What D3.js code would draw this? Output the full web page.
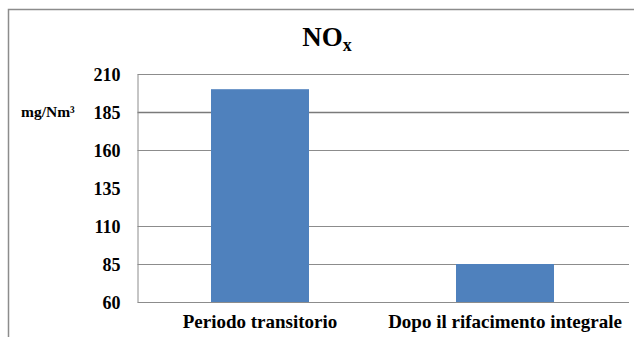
<!DOCTYPE html>
<html>
<head>
<meta charset="utf-8">
<script src="https://cdn.jsdelivr.net/npm/d3@7"></script>
<style>
  html, body { margin: 0; padding: 0; background: #fff; }
  svg { display: block; }
  svg text { font-family: "Liberation Serif", "DejaVu Serif", serif; font-weight: bold; }
</style>
</head>
<body>
<script>
// NOx emissions (mg/Nm³) before and after the full refurbishment
const categories = ["Periodo transitorio", "Dopo il rifacimento integrale"];
const values = [200, 85];
const yTicks = [60, 85, 110, 135, 160, 185, 210];
const gridValues = [85, 110, 160, 185, 210];
const unitLabel = "mg/Nm³";

const W = 634, H = 337;
const plot = { left: 137.5, right: 627.5, top: 74, bottom: 302 };
const serif = "Liberation Serif";

const svg = d3.select("body").append("svg")
  .attr("width", W).attr("height", H)
  .attr("font-family", serif)
  .attr("font-weight", "bold");

// outer frame (left and top edges visible)
svg.append("path")
  .attr("d", `M8.5,${H} V9.5 H${W}`)
  .attr("fill", "none")
  .attr("stroke", "#8c8c8c")
  .attr("stroke-width", 1.5);

const x = d3.scaleBand()
  .domain(categories)
  .range([plot.left, plot.right])
  .paddingInner(0.6)
  .paddingOuter(0.3);

const y = d3.scaleLinear()
  .domain([60, 210])
  .range([plot.bottom, plot.top]);

// horizontal gridlines
svg.append("g")
  .selectAll("line")
  .data(gridValues)
  .join("line")
  .attr("x1", plot.left).attr("x2", 629)
  .attr("y1", d => Math.round(y(d)) + 0.5).attr("y2", d => Math.round(y(d)) + 0.5)
  .attr("stroke", d => d === 185 ? "#7a7a7a" : "#8c8c8c")
  .attr("stroke-width", d => d === 185 ? 1.6 : 1);

// bars
svg.append("g")
  .selectAll("rect")
  .data(values)
  .join("rect")
  .attr("x", (d, i) => x(categories[i]))
  .attr("width", x.bandwidth())
  .attr("y", d => y(d))
  .attr("height", d => y(60) - y(d))
  .attr("fill", "#4f81bd");

// y axis
const yAxis = svg.append("g")
  .attr("transform", `translate(${plot.left},0)`)
  .call(d3.axisLeft(y).tickValues(yTicks).tickSize(0).tickPadding(17))
  .attr("font-family", serif)
  .attr("font-size", 18);
yAxis.select(".domain")
  .attr("stroke", "#8c8c8c");
yAxis.selectAll("text")
  .attr("fill", "#000")
  .attr("dy", "0.35em");

// x axis (baseline)
const xAxis = svg.append("g")
  .attr("transform", `translate(0,${plot.bottom})`)
  .call(d3.axisBottom(x).tickSize(0).tickPadding(12))
  .attr("font-family", serif)
  .attr("font-size", 19);
xAxis.select(".domain")
  .attr("d", `M${plot.left},0.5H629`)
  .attr("stroke", "#8c8c8c");
xAxis.selectAll("text")
  .attr("fill", "#000")
  .attr("dy", "0.75em");

// unit label
svg.append("text")
  .attr("x", 21).attr("y", y(185) + 5)
  .attr("font-size", 15.5)
  .text(unitLabel);

// title with subscript
const title = svg.append("text")
  .attr("x", 327).attr("y", 46)
  .attr("text-anchor", "middle")
  .attr("font-size", 27);
title.append("tspan").text("NO");
title.append("tspan").attr("font-size", 18).attr("dy", 5).text("x");
</script>
</body>
</html>
